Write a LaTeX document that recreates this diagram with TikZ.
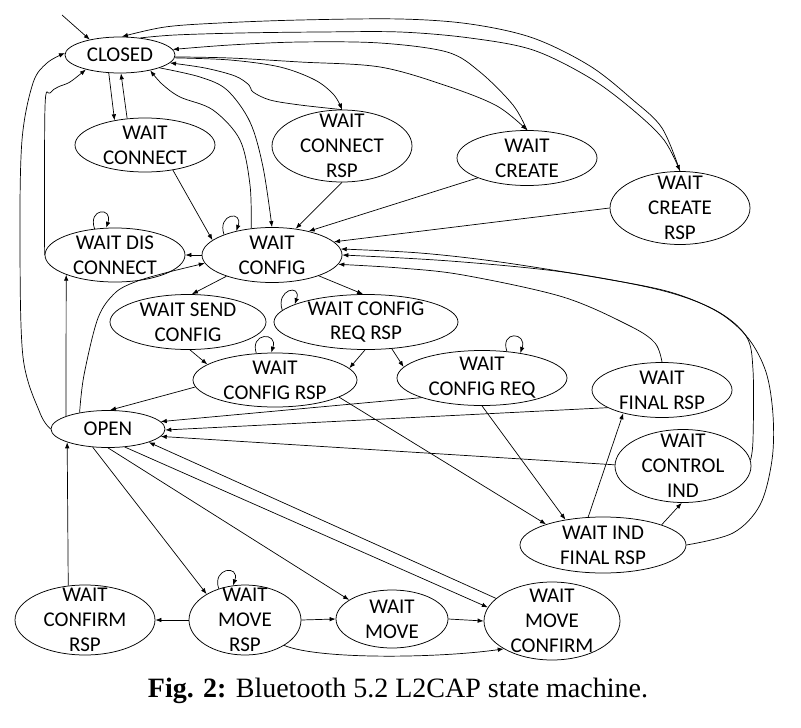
\documentclass[tikz,border=0pt]{standalone}
\usepackage{fontspec}
\setmainfont{Liberation Serif}
\newfontfamily\nodefont{Carlito}
\usetikzlibrary{shapes.geometric,arrows.meta}
\begin{document}
\begin{tikzpicture}[x=1pt,y=-1pt,
  st/.style={ellipse,draw,line width=0.75pt,inner sep=0pt},
  every label/.style={align=center,inner sep=0pt,font=\nodefont\fontsize{21}{24.8}\selectfont},
  ar/.style={-{Latex[length=6pt,width=4.5pt]},line width=0.7pt},
  ln/.style={line width=0.7pt},
  sm/.style={smooth,tension=0.55}]
\fill[white] (0,0) rectangle (801,728);
\useasboundingbox (0,0) rectangle (801,728);

% states
\node[st,minimum width=110pt,minimum height=36pt,label={center:CLOSED}] (closed) at (120,55) {};
\node[st,minimum width=140pt,minimum height=54pt,label={center:{WAIT\\CONNECT}}] (wconn) at (145,145) {};
\node[st,minimum width=140pt,minimum height=72pt,label={center:{WAIT\\CONNECT\\RSP}}] (wconnrsp) at (342,146) {};
\node[st,minimum width=140pt,minimum height=55pt,label={center:{WAIT\\CREATE}}] (wcreate) at (527,158) {};
\node[st,minimum width=140pt,minimum height=73pt,label={center:{WAIT\\CREATE\\RSP}}] (wcreatersp) at (680,208) {};
\node[st,minimum width=140pt,minimum height=54pt,label={center:{WAIT DIS\\CONNECT}}] (wdis) at (115,255) {};
\node[st,minimum width=140pt,minimum height=55pt,label={center:{WAIT\\CONFIG}}] (wconfig) at (272,255) {};
\node[st,minimum width=156pt,minimum height=55pt,label={center:{WAIT SEND\\CONFIG}}] (wsend) at (188,322) {};
\node[st,minimum width=184pt,minimum height=55pt,label={center:{WAIT CONFIG\\REQ RSP}}] (wreqrsp) at (366,322) {};
\node[st,minimum width=164pt,minimum height=54pt,label={center:{WAIT\\CONFIG RSP}}] (wcfgrsp) at (275,380) {};
\node[st,minimum width=170pt,minimum height=55pt,label={center:{WAIT\\CONFIG REQ}}] (wcfgreq) at (482,378) {};
\node[st,minimum width=140pt,minimum height=55pt,label={center:{WAIT\\FINAL RSP}}] (wfinal) at (662,390) {};
\node[st,minimum width=136pt,minimum height=73pt,label={center:{WAIT\\CONTROL\\IND}}] (wctrl) at (683,466) {};
\node[st,minimum width=166pt,minimum height=56pt,label={center:{WAIT IND\\FINAL RSP}}] (wind) at (603,545) {};
\node[st,minimum width=114pt,minimum height=37pt,label={center:OPEN}] (open) at (108,429) {};
\node[st,minimum width=140pt,minimum height=70pt,label={center:{WAIT\\CONFIRM\\RSP}}] (wconfirm) at (85,620) {};
\node[st,minimum width=112pt,minimum height=70pt,label={center:{WAIT\\MOVE\\RSP}}] (wmoversp) at (245,620) {};
\node[st,minimum width=112pt,minimum height=58pt,label={center:{WAIT\\MOVE}}] (wmove) at (392,619) {};
\node[st,minimum width=136pt,minimum height=78pt,label={center:{WAIT\\MOVE\\CONFIRM}}] (wmoveconf) at (552,621) {};

\node[inner sep=0pt,font=\fontsize{28}{32}\selectfont] (cap) at (398,691) {\textbf{Fig. 2:} Bluetooth 5.2 L2CAP state machine.};

% initial
\coordinate (init) at (62,15);
\draw[ar] (init) -- (closed.153);

% CLOSED <-> WAIT CONNECT
\draw[ar] (closed.-122) -- (wconn.141);
\draw[ar] (wconn.124) -- (closed.-87);

% CLOSED <-> WAIT CREATE RSP
\draw[ar] plot[sm] coordinates {(wcreatersp.north) (662,128) (633,100) (590,66) (533,38) (470,24) (400,19) (300,20) (220,23) (165,27) (closed.84)};
\draw[ar] plot[sm] coordinates {(closed.40) (175,35) (240,33) (320,32) (400,32) (470,38) (533,50) (590,78) (633,110) (664,140) (wcreatersp.north)};
% CLOSED <-> WAIT CREATE
\draw[ar] plot[sm] coordinates {(wcreate.north) (513,105) (480,72) (447,52) (380,43) (300,42) (230,45) (closed.6)};
\draw[ar] plot[sm] coordinates {(closed.-2) (230,58) (300,62) (380,67) (447,86) (497,106) (wcreate.north)};
% CLOSED <-> WAIT CONNECT RSP
\draw[ar] plot[sm] coordinates {(closed.-3) (230,60) (280,67) (315,80) (334,95) (wconnrsp.north)};
\draw[ar] plot[sm] coordinates {(wconnrsp.north) (300,105) (270,100) (253,92) (249,85) (235,76) (205,68) (closed.-9)};
% CLOSED <-> WAIT CONFIG
\draw[ar] plot[sm] coordinates {(closed.-18) (200,77) (227,90) (250,122) (263,167) (wconfig.north)};
\draw[ar] plot[sm] coordinates {(wconfig.128) (250,185) (240,140) (213,110) (180,97) (162,84) (closed.-27)};

% into WAIT CONFIG
\draw[ar] (wconn.-42) -- (wconfig.166);
\draw[ar] (wconnrsp.south) -- (wconfig.48);
\draw[ar] (wcreate.-158) -- (wconfig.33);
\draw[ar] (wcreatersp.west) -- (wconfig.12);
\draw[ar] plot[sm] coordinates {(wfinal.north) (655,343) (630,326) (563,297) (463,275) (400,268) (wconfig.-8)};
\draw[ar] plot[sm] coordinates {(wctrl.5) (753,440) (753,370) (746,336) (715,310) (660,290) (563,272) (450,261) (wconfig.east)};
\draw[ar] plot[sm] coordinates {(wind.east) (733,533) (760,505) (772,460) (773,415) (766,372) (748,338) (718,312) (670,292) (600,278) (500,262) (420,253) (wconfig.5)};

% left side
\draw[ar] plot[sm] coordinates {(open.west) (40,413) (23,357) (20,240) (22,140) (33,83) (47,63) (closed.178)};
\draw[ar] plot[sm] coordinates {(wdis.west) (45,107) (50,93) (58,87) (70,82) (closed.-157)};
\draw[ar] (open.163) -- (wdis.-158);
\draw[ar] plot[sm] coordinates {(open.150) (84,375) (98,318) (115,293) (135,282) (165,273) (wconfig.-173)};
\draw[ar] (wconfig.180) -- (wdis.east);

% loops
\draw[ar] (wdis.128) .. controls +(-7,-21) and +(7,-21) .. (wdis.108);
\draw[ar] (wconfig.157) .. controls +(-7,-21) and +(7,-21) .. (wconfig.146);
\draw[ar] (wreqrsp.172) .. controls +(-7,-21) and +(7,-21) .. (wreqrsp.166);
\draw[ar] (wcfgrsp.125) .. controls +(-7,-21) and +(7,-21) .. (wcfgrsp.98);
\draw[ar] (wcfgreq.47) .. controls +(-7,-21) and +(7,-21) .. (wcfgreq.33);
\draw[ar] (wmoversp.130) .. controls +(-7,-21) and +(7,-21) .. (wmoversp.109);

% config sub-machine
\draw[ar] (wconfig.-155) -- (wsend.82);
\draw[ar] (wconfig.-24) -- (wreqrsp.96);
\draw[ar] (wsend.-86) -- (wcfgrsp.167);
\draw[ar] (wreqrsp.-92) -- (wcfgrsp.9);
\draw[ar] (wreqrsp.-46) -- (wcfgreq.172);
\draw[ar] (wcfgrsp.-175) -- (open.84);
\draw[ar] (wcfgrsp.-15) -- (wind.160);
\draw[ar] (wcfgreq.-162) -- (open.8);
\draw[ar] (wcfgreq.south) -- (wind.146);
\draw[ar] (wfinal.-162) -- (open.-1);
\draw[ar] (wctrl.179) -- (open.-8);
\draw[ar] (wind.118) -- (wfinal.-149.5);
\draw[ar] (wind.19) -- (wctrl.-92);

% move sub-machine
\draw[ar] (open.-130) -- (wmoversp.146);
\draw[ar] (open.south) -- (wmove.156);
\draw[ar] (open.-47) -- (wmoveconf.168);
\draw[ar] (wmoveconf.158) -- (open.-18);
\draw[ar] (wconfirm.116) -- (open.-162);
\draw[ar] (wmoversp.west) -- (wconfirm.east);
\draw[ar] (wmoversp.east) -- (wmove.west);
\draw[ar] (wmove.east) -- (wmoveconf.west);
\draw[ar] (wmoversp.-33) .. controls (320,660) and (440,658) .. (wmoveconf.-150);
\end{tikzpicture}
\end{document}
